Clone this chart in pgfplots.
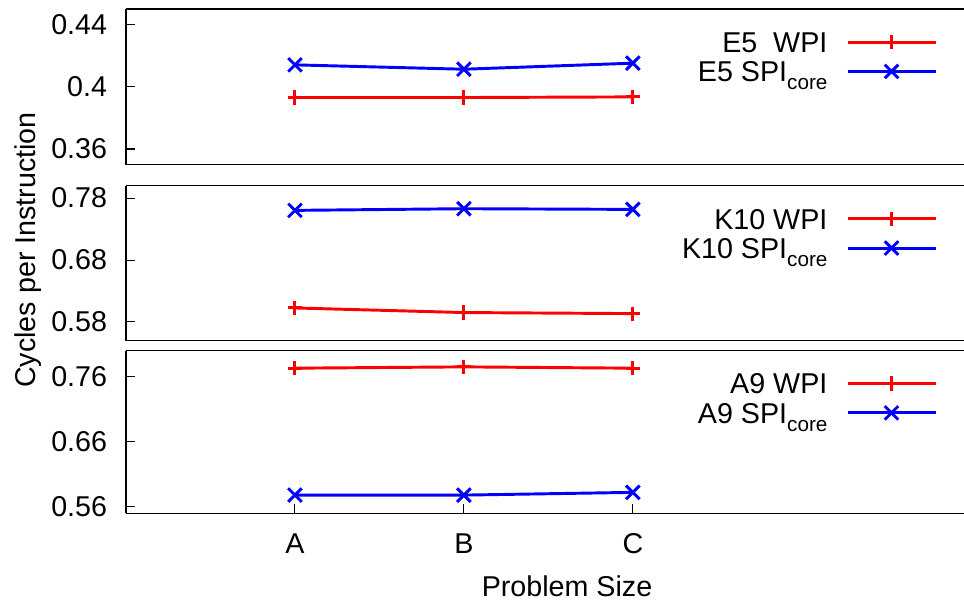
\documentclass[border=0pt]{standalone}
\usepackage{pgfplots}
\pgfplotsset{compat=1.18}
\usepackage{fontspec}
\setmainfont{Liberation Sans}
\newcommand{\sub}[1]{\raisebox{-0.28em}{\fontsize{15.5}{16}\selectfont #1}}
\pgfplotsset{
  panel/.style={
    scale only axis,
    width=628.5pt,
    xmin=0, xmax=4.96,
    axis x line=box, axis y line=left,
    axis line style={-, line width=0.9pt, black},
    tick align=inside,
    major tick length=7pt,
    tick style={line width=0.8pt, black},
    xtick=\empty,
    ytick pos=left,
    /pgf/number format/assume math mode=true,
    tick label style={font=\fontsize{21.5}{24}\selectfont},
    yticklabel style={inner sep=0pt, xshift=-14pt},
    clip=false,
    legend plot pos=right,
    legend cell align=right,
    legend style={draw=none, fill=none, inner sep=0pt, outer sep=0pt,
      at={(1,1)}, anchor=north east, xshift=-20.25pt, yshift=-17pt,
      row sep=6.5pt, column sep=14pt,
      nodes={inner sep=0pt, outer sep=0pt, text height=15.5pt, text depth=0pt,
             font=\fontsize{21.5}{24}\selectfont}},
    legend image code/.code={
      \draw[mark repeat=2, mark phase=2] plot coordinates {(0pt,0pt) (33pt,0pt) (66pt,0pt)};
    },
  },
  wpi/.style={red, line width=2.2pt, mark=+, mark size=5.3pt, mark options={solid, line width=2.2pt}},
  spi/.style={blue, line width=2.2pt, mark=x, mark size=7.2pt, mark options={solid, line width=2.2pt}},
}
\begin{document}
\begin{tikzpicture}
\useasboundingbox (0,0) rectangle (723pt,453pt);
% Panel 1: E5
\begin{axis}[panel, at={(94.5pt,329.6pt)}, anchor=south west, height=116.6pt,
  ymin=0.35, ymax=0.45, ytick={0.36,0.4,0.44}, yticklabels={0.36,0.4,0.44}]
\addplot[wpi] coordinates {(1,0.3931) (2,0.3931) (3,0.3935)};
\addlegendentry{E5~~WPI}
\addplot[spi] coordinates {(1,0.4141) (2,0.4113) (3,0.4152)};
\addlegendentry{E5 SPI\sub{core}}
\end{axis}
% Panel 2: K10
\begin{axis}[panel, at={(94.5pt,197.6pt)}, anchor=south west, height=116.1pt,
  ymin=0.55, ymax=0.80, ytick={0.58,0.68,0.78}, yticklabels={0.58,0.68,0.78}]
\addplot[wpi] coordinates {(1,0.6026) (2,0.5952) (3,0.5935)};
\addlegendentry{K10 WPI}
\addplot[spi] coordinates {(1,0.7602) (2,0.7629) (3,0.7618)};
\addlegendentry{K10 SPI\sub{core}}
\end{axis}
% Panel 3: A9
\begin{axis}[panel, at={(94.5pt,68.0pt)}, anchor=south west, height=122.1pt,
  ymin=0.55, ymax=0.80, ytick={0.56,0.66,0.76}, yticklabels={0.56,0.66,0.76},
  xtick={1,2,3}, xticklabels={A,B,C}, xtick pos=bottom,
  xticklabel style={inner sep=0pt, anchor=north, yshift=-15pt}]
\addplot[wpi] coordinates {(1,0.7729) (2,0.7749) (3,0.7729)};
\addlegendentry{A9 WPI}
\addplot[spi] coordinates {(1,0.5780) (2,0.5780) (3,0.5822)};
\addlegendentry{A9 SPI\sub{core}}
\end{axis}
\node[anchor=base, inner sep=0pt, font=\fontsize{21.5}{24}\selectfont] at (425.25pt,5.5pt) {Problem Size};
\node[anchor=base, rotate=90, inner sep=0pt, font=\fontsize{21.5}{24}\selectfont] at (26.25pt,265.5pt) {Cycles per Instruction};
\end{tikzpicture}
\end{document}
